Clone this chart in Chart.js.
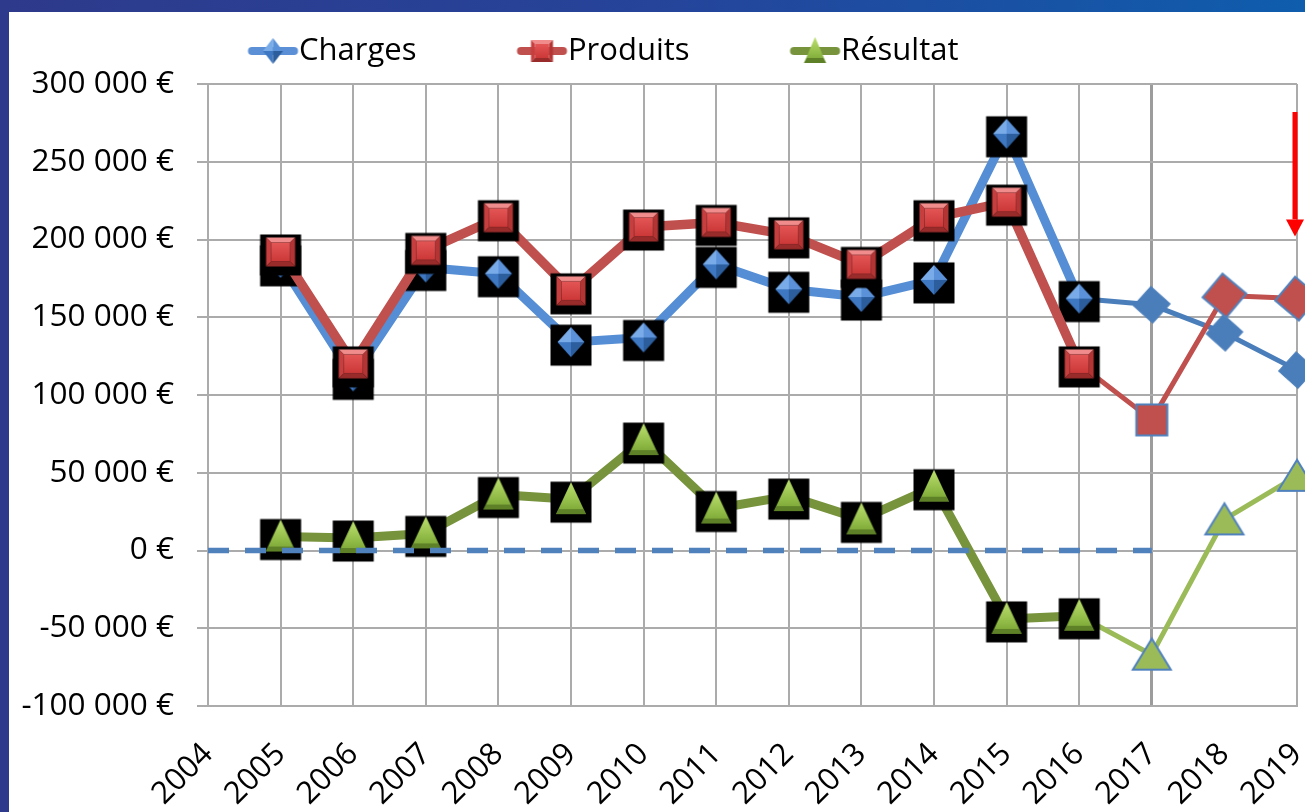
<!DOCTYPE html>
<html><head><meta charset="utf-8">
<script src="https://cdn.jsdelivr.net/npm/chart.js@4.4.1/dist/chart.umd.min.js"></script>
<style>
html,body{margin:0;padding:0;width:1305px;height:812px;overflow:hidden;background:linear-gradient(90deg,#2e3a8b 0%,#25449a 50%,#0f5dad 100%);}
#wrap{position:absolute;left:9px;top:12px;width:1296px;height:800px;background:#fff;}
canvas{display:block;}
</style></head><body>
<div id="wrap"><canvas id="c" width="1296" height="800"></canvas></div>
<script>
// ---------- data ----------
const years = ['2004','2005','2006','2007','2008','2009','2010','2011','2012','2013','2014','2015','2016','2017','2018','2019'];
const charges  = [null, 185000, 112000, 182000, 178000, 134000, 137000, 184000, 168000, 163000, 174000, 268000, 162000, 158000, 140000, 116000];
const produits = [null, 192000, 120000, 193000, 214000, 167000, 208000, 211000, 203000, 184000, 214000, 224000, 120000, 84000, 164000, 162000];
const resultat = [null, 9000, 8000, 11000, 36000, 33000, 71000, 27000, 35000, 20000, 41000, -44000, -42000, -67000, 20000, 48000];
const zeroLine = [0, 0, 0, 0, 0, 0, 0, 0, 0, 0, 0, 0, 0, 0, null, null];
const seriesNames = ['Charges', 'Produits', 'Résultat'];
const yMin = -100000, yMax = 300000, yStep = 50000;
const firstForecastYear = '2017';
const noGridYear = '2018';
const arrowYear = '2019', arrowFrom = 282000, arrowTo = 202000;

// ---------- helpers ----------
const FC = years.indexOf(firstForecastYear);
const NOGRID = years.indexOf(noGridYear);
function mk(w,h){const c=document.createElement('canvas');c.width=w;c.height=h;return [c,c.getContext('2d')];}
function poly(g,pts,fill,stroke,lw){g.beginPath();g.moveTo(pts[0][0],pts[0][1]);for(let i=1;i<pts.length;i++)g.lineTo(pts[i][0],pts[i][1]);g.closePath();g.fillStyle=fill;g.fill();if(stroke){g.strokeStyle=stroke;g.lineWidth=lw;g.lineJoin='miter';g.stroke();}}
function diamond3D(g,cx,cy,w,h){
  const T=[cx,cy-h/2],R=[cx+w/2,cy],B=[cx,cy+h/2],L=[cx-w/2,cy],M=[cx,cy];
  poly(g,[L,T,M],'#79abe8');poly(g,[T,R,M],'#5b91d8');poly(g,[L,M,B],'#3f78c2');poly(g,[M,R,B],'#2c5e9e');
}
function square3D(g,cx,cy,s){
  const x=cx-s/2,y=cy-s/2,b=Math.round(s*0.16);
  poly(g,[[x,y],[x+s,y],[x+s-b,y+b],[x+b,y+b]],'#f08c8c');
  poly(g,[[x,y],[x+b,y+b],[x+b,y+s-b],[x,y+s]],'#c63e3e');
  poly(g,[[x+s,y],[x+s,y+s],[x+s-b,y+s-b],[x+s-b,y+b]],'#b43434');
  poly(g,[[x,y+s],[x+b,y+s-b],[x+s-b,y+s-b],[x+s,y+s]],'#9a2b2b');
  const grd=g.createLinearGradient(0,y+b,0,y+s-b);grd.addColorStop(0,'#e45656');grd.addColorStop(1,'#cc3838');
  g.fillStyle=grd;g.fillRect(x+b,y+b,s-2*b,s-2*b);
}
function tri3D(g,cx,cy,w,h){
  const T=[cx,cy-h/2],BL=[cx-w/2,cy+h/2],BR=[cx+w/2,cy+h/2];
  const grd=g.createLinearGradient(0,cy-h/2,0,cy+h/2);grd.addColorStop(0,'#bde070');grd.addColorStop(0.65,'#8fba45');grd.addColorStop(1,'#77a134');
  poly(g,[T,BL,BR],grd);
  const bh=5;poly(g,[BL,BR,[BR[0]-bh*0.55,BR[1]-bh],[BL[0]+bh*0.55,BL[1]-bh]],'#5e8128');
}
function rotSquare(g,cx,cy,s,ang,fill,stroke,lw){g.save();g.translate(cx,cy);g.rotate(ang*Math.PI/180);g.fillStyle=fill;g.fillRect(-s/2,-s/2,s,s);if(stroke){g.strokeStyle=stroke;g.lineWidth=lw;g.strokeRect(-s/2,-s/2,s,s);}g.restore();}

function histMarker(draw){const [c,g]=mk(52,52);g.fillStyle='#000';g.fillRect(26-20.5,26-20.5+3,41,41);draw(g,26,26);return c;}
const mHist = [
  histMarker((g,x,y)=>diamond3D(g,x,y,27,30)),
  histMarker((g,x,y)=>square3D(g,x,y,29)),
  histMarker((g,x,y)=>tri3D(g,x,y-1,30,32))
];
function fcMarker(draw){const [c,g]=mk(50,50);draw(g,25,25);return c;}
const mFcCharges = fcMarker((g,x,y)=>rotSquare(g,x,y,26,42,'#4a7ebb','#4a7ebb',1));
const mFcProdSq  = fcMarker((g,x,y)=>rotSquare(g,x,y,31,0,'#c0504d','#4f81bd',2));
const mFcProdDia = fcMarker((g,x,y)=>rotSquare(g,x,y,31,40,'#c0504d','#4f81bd',2));
const mFcRes     = fcMarker((g,x,y)=>poly(g,[[x,y-16],[x-19,y+15],[x+19,y+15]],'#9bbb59','#4f81bd',2));

// legend icons
const FS=31, BW=128, LP=8;
function legendIcon(lineColor,draw){
  const W=162,H=36;const [c,g]=mk(W,H);
  const cx0=W/2, textStart=cx0+BW/2+FS/2, x1=textStart-1, x0=textStart-51, cy=H/2;
  g.strokeStyle=lineColor;g.lineWidth=8;g.lineCap='round';
  g.beginPath();g.moveTo(x0+4,cy);g.lineTo(x1-4,cy);g.stroke();
  draw(g,(x0+x1)/2,cy);return c;
}
const legendIcons=[
  legendIcon('#5b8fd6',(g,x,y)=>diamond3D(g,x,y,20,26)),
  legendIcon('#c0504d',(g,x,y)=>square3D(g,x,y,22)),
  legendIcon('#77933c',(g,x,y)=>tri3D(g,x,y-1,22,26))
];

function fmt(v){const s=Math.abs(v).toString().replace(/\B(?=(\d{3})+(?!\d))/g,' ');return (v<0?'-':'')+s+' €';}
const seg=(hc,fc,hw,fw)=>({borderColor:c=>c.p1DataIndex>=FC?fc:hc,borderWidth:c=>c.p1DataIndex>=FC?fw:hw});

const legendShift={id:'legendShift',afterLayout(chart){const lg=chart.legend;if(!lg)return;lg.left+=128.5;lg.right+=128.5;lg.top-=7.5;lg.bottom-=7.5;}};
const arrowPlugin={id:'arrow',afterDatasetsDraw(chart){
  const g=chart.ctx,xs=chart.scales.x,ys=chart.scales.y;
  const x=xs.getPixelForValue(years.indexOf(arrowYear))-2, y1=ys.getPixelForValue(arrowFrom), y2=ys.getPixelForValue(arrowTo);
  g.save();g.fillStyle='#ff0000';g.fillRect(x-2.5,y1,5,(y2-17)-y1);
  g.beginPath();g.moveTo(x-9,y2-17);g.lineTo(x+9,y2-17);g.lineTo(x,y2);g.closePath();g.fill();g.restore();
}};

Chart.defaults.font.family="'Open Sans', sans-serif";
Chart.defaults.color='#000';

new Chart(document.getElementById('c'),{
  type:'line',
  data:{labels:years,datasets:[
    {label:seriesNames[0],data:charges,order:2,clip:false,borderColor:'#558ed5',borderWidth:9,borderJoinStyle:'round',
      segment:seg('#558ed5','#4a7ebb',9,5),pointRadius:2,pointBorderWidth:0,pointStyle:c=>c.dataIndex>=FC?mFcCharges:mHist[0]},
    {label:seriesNames[1],data:produits,order:1,clip:false,borderColor:'#c0504d',borderWidth:9,borderJoinStyle:'round',
      segment:seg('#c0504d','#c0504d',9.5,5),pointRadius:2,pointBorderWidth:0,pointStyle:c=>c.dataIndex>FC?mFcProdDia:(c.dataIndex===FC?mFcProdSq:mHist[1])},
    {label:seriesNames[2],data:resultat,order:3,clip:false,borderColor:'#77933c',borderWidth:9,borderJoinStyle:'round',
      segment:seg('#77933c','#9bbb59',9,5),pointRadius:2,pointBorderWidth:0,pointStyle:c=>c.dataIndex>=FC?mFcRes:mHist[2]},
    {label:'zero',data:zeroLine,order:0,borderColor:'#4f81bd',borderWidth:5.5,borderDash:[21,16],pointRadius:0,clip:false}
  ]},
  options:{
    responsive:false,animation:false,events:[],
    layout:{padding:{left:10,top:23,right:8,bottom:0}},
    plugins:{
      tooltip:{enabled:false},
      legend:{position:'top',align:'start',
        labels:{usePointStyle:true,pointStyleWidth:BW,padding:LP,font:{size:FS},color:'#000',
          generateLabels:()=>seriesNames.map((n,i)=>({text:n,pointStyle:legendIcons[i],fillStyle:'rgba(0,0,0,0)',strokeStyle:'rgba(0,0,0,0)',lineWidth:0,hidden:false,datasetIndex:i,fontColor:'#000'}))}}
    },
    scales:{
      x:{grid:{color:c=>c.index===NOGRID?'rgba(0,0,0,0)':(c.index===FC?'#9c9c9c':'#ababab'),lineWidth:c=>c.index===FC?3:2,drawTicks:false},
        border:{color:'#ababab',width:2},
        ticks:{font:{size:31},color:'#000',minRotation:45,maxRotation:45,autoSkip:false,padding:30},
        afterFit:s=>{s.paddingRight=0;s.paddingLeft=0;s.height=106;}},
      y:{min:yMin,max:yMax,grid:{color:'#ababab',lineWidth:2,tickLength:11},border:{color:'#ababab',width:2},
        ticks:{stepSize:yStep,callback:v=>fmt(v),font:{size:31.5},color:'#000',padding:23},
        afterFit:s=>{s.width=189;}}
    }
  },
  plugins:[legendShift,arrowPlugin]
});
</script>
</body></html>
